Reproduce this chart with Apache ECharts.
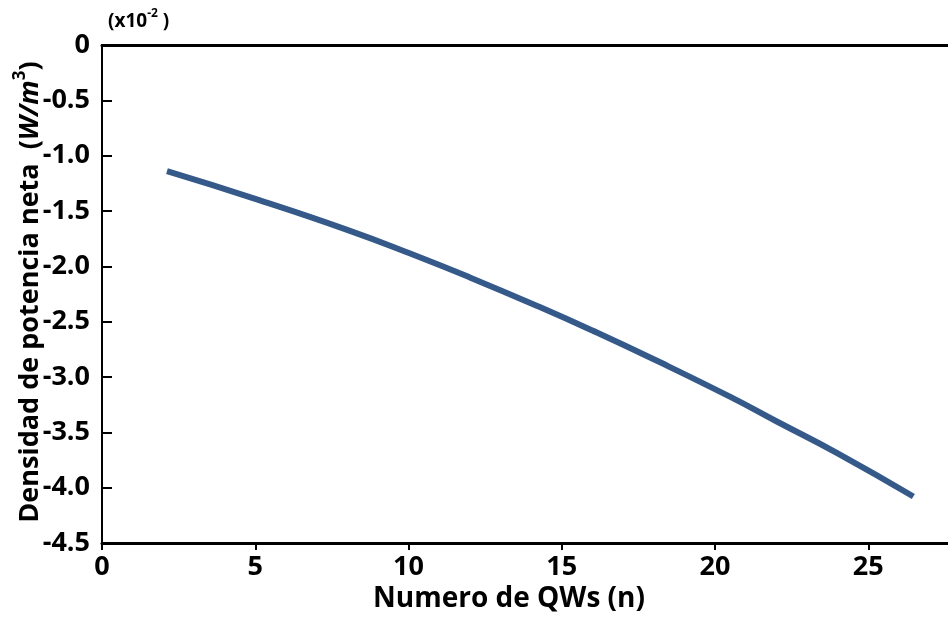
<!DOCTYPE html>
<html>
<head>
<meta charset="utf-8">
<script src="https://cdn.jsdelivr.net/npm/echarts@6/dist/echarts.min.js"></script>
<style>
  html, body { margin: 0; padding: 0; background: #fff; }
  #chart { width: 948px; height: 622px; }
</style>
</head>
<body>
<div id="chart"></div>
<script>
// Number of quantum wells (n)
const wells = [2.12, 5, 8, 10.2, 12, 14.3, 16, 18, 20.5, 22, 24, 26.47];
// Net power density, in units of 1e-2 W/m^3
const netPower = [-1.14, -1.39, -1.67, -1.90, -2.10, -2.37, -2.58, -2.84, -3.18, -3.40, -3.69, -4.08];
// Axis tick values
const xTicks = [0, 5, 10, 15, 20, 25];
const yTicks = [0, -0.5, -1.0, -1.5, -2.0, -2.5, -3.0, -3.5, -4.0, -4.5];

const FONT = '"Open Sans", "Liberation Sans", sans-serif';
const points = wells.map((w, i) => [w, netPower[i]]);

const chart = echarts.init(document.getElementById('chart'), null, { renderer: 'canvas' });
chart.setOption({
  backgroundColor: '#ffffff',
  animation: false,
  grid: { left: 102, right: 0, top: 45, bottom: 79 },
  xAxis: [
    {
      type: 'value',
      min: xTicks[0],
      max: 27.6,
      interval: 5,
      position: 'bottom',
      splitLine: { show: false },
      axisLine: { onZero: false, lineStyle: { color: '#000', width: 3 } },
      axisTick: { show: true, inside: false, length: 7, lineStyle: { color: '#000', width: 2 } },
      axisLabel: {
        margin: 11, showMaxLabel: false,
        color: '#000', fontFamily: FONT, fontWeight: 'bold', fontSize: 27,
        formatter: v => (xTicks.includes(v) ? String(v) : '')
      }
    },
    {
      type: 'value',
      min: xTicks[0],
      max: 27.6,
      position: 'top',
      splitLine: { show: false },
      axisLine: { onZero: false, lineStyle: { color: '#000', width: 3 } },
      axisTick: { show: false },
      axisLabel: { show: false }
    }
  ],
  yAxis: {
    type: 'value',
    min: yTicks[yTicks.length - 1],
    max: yTicks[0],
    interval: 0.5,
    splitLine: { show: false },
    axisLine: { onZero: false, lineStyle: { color: '#000', width: 2 } },
    axisTick: { show: true, inside: true, length: 10, lineStyle: { color: '#000', width: 2 } },
    axisLabel: {
      margin: 12,
      color: '#000', fontFamily: FONT, fontWeight: 'bold', fontSize: 27,
      formatter: v => (v === 0 ? '0' : v.toFixed(1))
    }
  },
  series: [{
    type: 'line',
    xAxisIndex: 0,
    data: points,
    smooth: 0.5,
    showSymbol: false,
    lineStyle: { color: '#355A8A', width: 6, cap: 'butt' }
  }],
  graphic: [
    {
      type: 'text',
      left: 373,
      top: 585,
      style: {
        text: 'Numero de QWs (n)',
        fill: '#000',
        font: 'bold 28px ' + FONT
      }
    },
    {
      type: 'text',
      x: 30,
      y: 292,
      rotation: Math.PI / 2,
      style: {
        text: '{a|Densidad de potencia neta  (}{i|W/m}{s|3}{a|)}',
        align: 'center',
        verticalAlign: 'middle',
        rich: {
          a: { fill: '#000', fontFamily: FONT, fontWeight: 'bold', fontSize: 27, lineHeight: 36 },
          i: { fill: '#000', fontFamily: FONT, fontWeight: 'bold', fontStyle: 'italic', fontSize: 27, lineHeight: 36 },
          s: { fill: '#000', fontFamily: FONT, fontWeight: 'bold', fontSize: 17, lineHeight: 36, verticalAlign: 'top', padding: [0, 0, 12, 0] }
        }
      }
    },
    {
      type: 'text',
      left: 108,
      top: 8,
      style: {
        text: '{a|(x10}{s|-2}{a| )}',
        rich: {
          a: { fill: '#000', fontFamily: FONT, fontWeight: 'bold', fontSize: 19, lineHeight: 28 },
          s: { fill: '#000', fontFamily: FONT, fontWeight: 'bold', fontSize: 12, lineHeight: 28, verticalAlign: 'top', padding: [0, 0, 9, 0] }
        }
      }
    }
  ]
});
</script>
</body>
</html>
